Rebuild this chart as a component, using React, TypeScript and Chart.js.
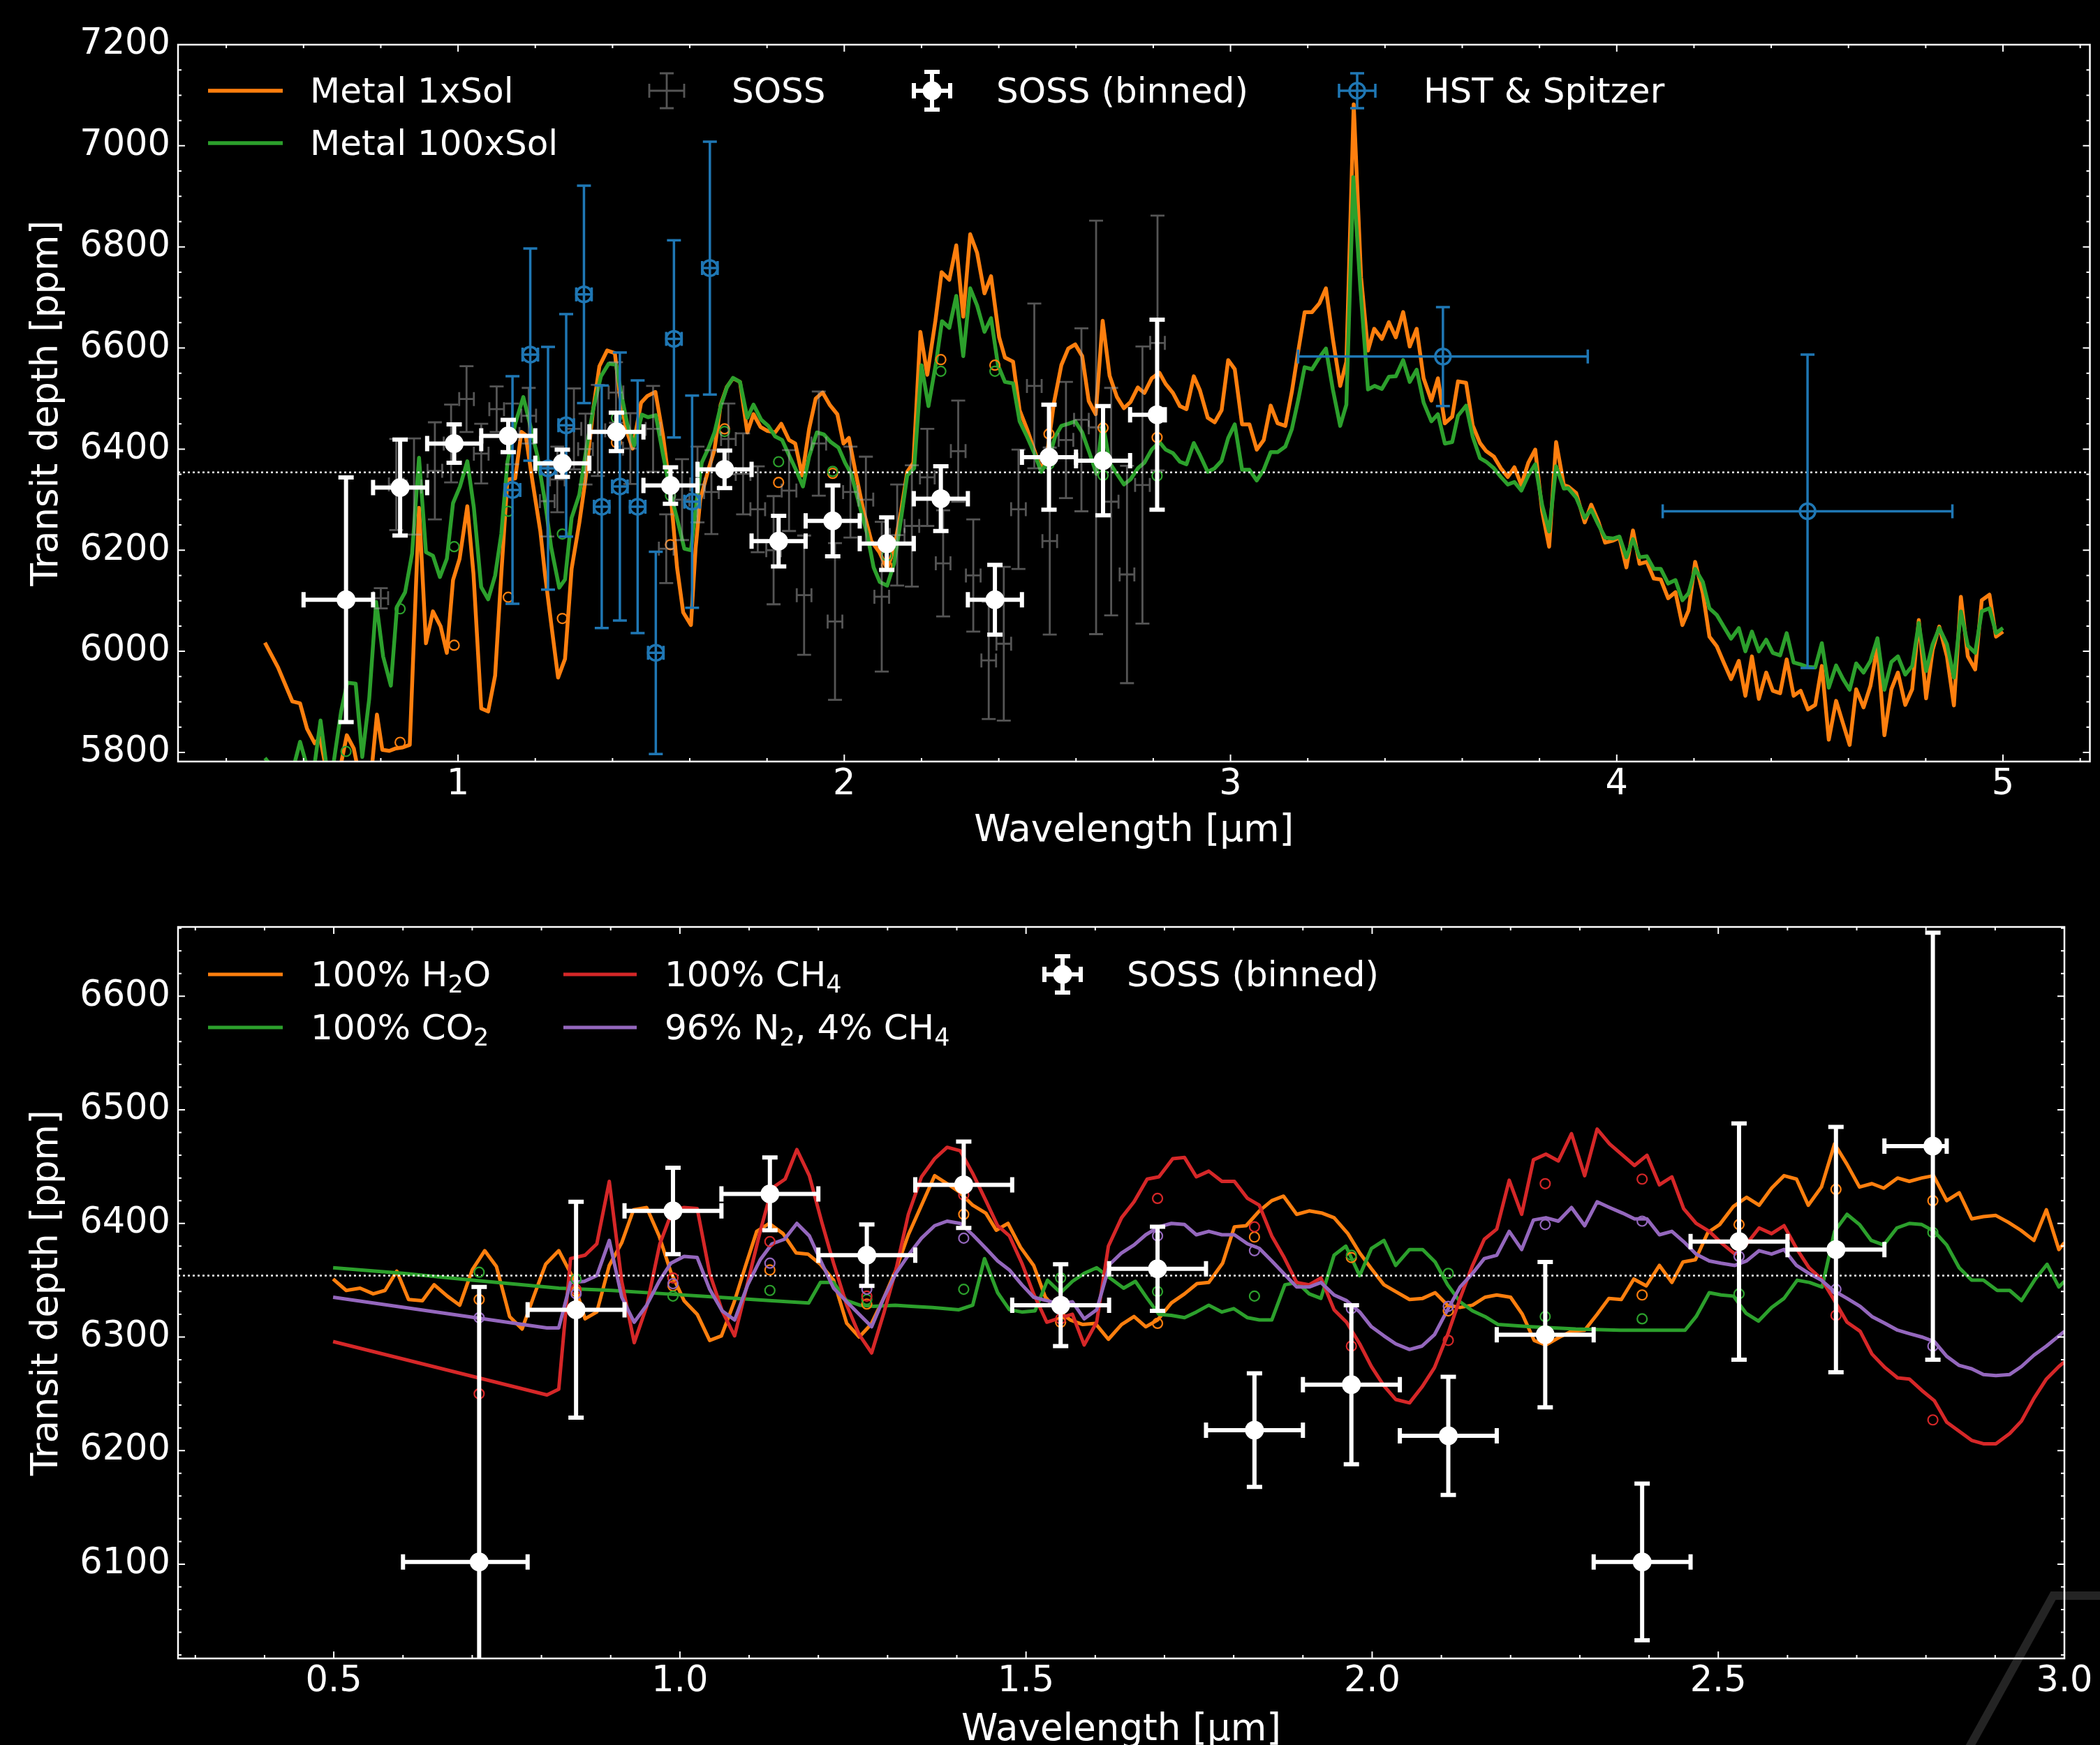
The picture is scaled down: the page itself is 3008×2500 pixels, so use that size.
import React, { useEffect, useRef } from 'react';
import { Chart, registerables } from 'chart.js';

Chart.register(...registerables);

const FONT = "'DejaVu Sans'";
const ORANGE = '#ff7f0e';
const GREEN = '#2ca02c';
const RED = '#d62728';
const PURPLE = '#9467bd';
const BLUE = '#1f77b4';
const GRAY = 'rgba(170,170,170,0.5)';
const WHITE = '#ffffff';

// ---------------- shared data ----------------
const meanDepth = 6354;

const binWave = [0.71, 0.85, 0.99, 1.13, 1.27, 1.41, 1.55, 1.69, 1.83, 1.97, 2.11, 2.25, 2.39, 2.53, 2.67, 2.81];
const binDepth = [6102, 6324, 6411, 6426, 6372, 6434, 6328, 6360, 6218, 6258, 6213, 6302, 6102, 6384, 6377, 6468];
const binErr = [242, 95, 38, 32, 27, 38, 36, 37, 50, 70, 52, 64, 69, 104, 108, 188];
const binWaveLo = [0.11, 0.07, 0.07, 0.07, 0.07, 0.07, 0.07, 0.07, 0.07, 0.07, 0.07, 0.07, 0.07, 0.07, 0.07, 0.07];
const binWaveHi = [0.07, 0.07, 0.07, 0.07, 0.07, 0.07, 0.07, 0.07, 0.07, 0.07, 0.07, 0.07, 0.07, 0.07, 0.07, 0.02];

const sossWave = [0.80, 0.84, 0.886, 0.94, 0.982, 1.022, 1.06, 1.10, 1.14, 1.183, 1.231, 1.257, 1.30, 1.33, 1.362, 1.409, 1.446, 1.505, 1.539, 1.58, 1.62, 1.656, 1.70, 1.738, 1.776, 1.817, 1.857, 1.896, 1.934, 1.976, 2.016, 2.056, 2.097, 2.137, 2.175, 2.215, 2.256, 2.295, 2.334, 2.374, 2.413, 2.451, 2.492, 2.532, 2.574, 2.614, 2.652, 2.691, 2.732, 2.772, 2.811];
const sossDepth = [6105, 6330, 6326, 6357, 6411, 6499, 6391, 6479, 6430, 6466, 6297, 6340, 6440, 6400, 6437, 6512, 6401, 6440, 6203, 6300, 6330, 6315, 6420, 6351, 6281, 6200, 6318, 6111, 6411, 6059, 6315, 6300, 6108, 6230, 6248, 6344, 6174, 6396, 6150, 5982, 6015, 6281, 6525, 6218, 6418, 6458, 6443, 6296, 6152, 6329, 6610];
const sossErr = [20, 90, 95, 96, 77, 65, 59, 45, 60, 55, 70, 65, 80, 70, 90, 60, 70, 85, 68, 80, 75, 83, 70, 80, 85, 107, 80, 118, 103, 155, 90, 85, 148, 100, 120, 96, 105, 100, 111, 116, 152, 118, 163, 185, 115, 181, 409, 225, 215, 274, 252];
const sossWaveErr = 0.019;

const hstWave = [1.141, 1.187, 1.233, 1.280, 1.326, 1.372, 1.419, 1.465, 1.512, 1.559, 1.606, 1.652, 3.55, 4.494];
const hstDepth = [6319, 6587, 6362, 6447, 6706, 6286, 6326, 6286, 5997, 6618, 6296, 6758, 6583, 6277];
const hstErr = [225, 210, 240, 220, 215, 240, 265, 250, 200, 195, 210, 250, 98, 310];
const hstWaveErr = [0.02, 0.02, 0.02, 0.02, 0.02, 0.02, 0.02, 0.02, 0.02, 0.02, 0.02, 0.02, 0.375, 0.375];

// ---------------- top panel models ----------------
const metal1x: number[][] = [
  [0.500, 6017], [0.534, 5968], [0.571, 5901], [0.591, 5897], [0.609, 5847], [0.629, 5818], [0.643, 5829], [0.660, 5760], [0.677, 5740], [0.695, 5770], [0.712, 5834], [0.730, 5808], [0.748, 5740], [0.768, 5700], [0.790, 5875], [0.804, 5805], [0.822, 5803], [0.839, 5808], [0.857, 5810], [0.875, 5815], [0.899, 6284], [0.917, 6016], [0.935, 6079], [0.955, 6049], [0.971, 5997], [0.987, 6141], [1.004, 6183], [1.024, 6287], [1.040, 6153], [1.060, 5887], [1.078, 5881], [1.096, 5952], [1.112, 6153], [1.128, 6340], [1.148, 6342], [1.164, 6434], [1.175, 6428], [1.193, 6335], [1.213, 6238], [1.225, 6153], [1.241, 6056], [1.259, 5948], [1.277, 5985], [1.294, 6163], [1.314, 6254], [1.330, 6340], [1.350, 6479], [1.366, 6564], [1.386, 6595], [1.406, 6590], [1.419, 6505], [1.435, 6440], [1.452, 6401], [1.474, 6492], [1.490, 6505], [1.511, 6513], [1.531, 6425], [1.551, 6307], [1.567, 6166], [1.583, 6077], [1.603, 6052], [1.615, 6203], [1.627, 6300], [1.648, 6359], [1.664, 6399], [1.680, 6488], [1.696, 6523], [1.712, 6540], [1.730, 6533], [1.749, 6433], [1.765, 6469], [1.783, 6444], [1.801, 6436], [1.821, 6433], [1.837, 6450], [1.857, 6418], [1.873, 6411], [1.891, 6348], [1.909, 6440], [1.926, 6500], [1.944, 6512], [1.962, 6488], [1.982, 6469], [1.998, 6411], [2.012, 6422], [2.030, 6351], [2.050, 6277], [2.070, 6218], [2.091, 6196], [2.111, 6163], [2.129, 6203], [2.147, 6277], [2.163, 6355], [2.179, 6373], [2.197, 6632], [2.215, 6547], [2.236, 6654], [2.252, 6750], [2.272, 6735], [2.290, 6803], [2.308, 6662], [2.326, 6825], [2.344, 6788], [2.363, 6708], [2.380, 6742], [2.401, 6621], [2.416, 6581], [2.437, 6573], [2.454, 6477], [2.473, 6440], [2.493, 6396], [2.510, 6359], [2.526, 6396], [2.543, 6492], [2.562, 6566], [2.580, 6599], [2.598, 6607], [2.616, 6584], [2.633, 6495], [2.651, 6469], [2.669, 6654], [2.687, 6545], [2.706, 6503], [2.724, 6481], [2.741, 6493], [2.760, 6522], [2.777, 6511], [2.796, 6540], [2.816, 6551], [2.832, 6529], [2.851, 6511], [2.869, 6485], [2.886, 6479], [2.905, 6544], [2.921, 6516], [2.941, 6462], [2.959, 6453], [2.977, 6477], [2.994, 6576], [3.011, 6558], [3.030, 6449], [3.049, 6449], [3.068, 6399], [3.086, 6418], [3.104, 6486], [3.122, 6451], [3.142, 6446], [3.159, 6514], [3.175, 6592], [3.192, 6671], [3.211, 6671], [3.230, 6688], [3.247, 6718], [3.265, 6618], [3.284, 6525], [3.300, 6573], [3.319, 7082], [3.338, 6740], [3.356, 6595], [3.372, 6638], [3.392, 6618], [3.410, 6651], [3.428, 6621], [3.447, 6671], [3.464, 6603], [3.482, 6638], [3.500, 6540], [3.520, 6496], [3.537, 6540], [3.555, 6451], [3.574, 6464], [3.589, 6534], [3.610, 6531], [3.627, 6447], [3.646, 6412], [3.662, 6396], [3.682, 6385], [3.700, 6362], [3.718, 6345], [3.735, 6364], [3.753, 6329], [3.771, 6373], [3.789, 6399], [3.807, 6277], [3.825, 6207], [3.843, 6414], [3.863, 6329], [3.874, 6326], [3.895, 6313], [3.917, 6255], [3.934, 6290], [3.952, 6258], [3.970, 6215], [3.990, 6219], [4.007, 6225], [4.025, 6166], [4.042, 6239], [4.059, 6173], [4.078, 6177], [4.096, 6144], [4.114, 6142], [4.133, 6105], [4.152, 6117], [4.170, 6052], [4.186, 6081], [4.203, 6177], [4.223, 6115], [4.240, 6029], [4.259, 6010], [4.277, 5978], [4.296, 5945], [4.316, 5981], [4.333, 5912], [4.350, 5990], [4.368, 5906], [4.387, 5958], [4.404, 5922], [4.423, 5917], [4.440, 5984], [4.458, 5912], [4.476, 5922], [4.495, 5885], [4.514, 5894], [4.531, 5971], [4.549, 5825], [4.568, 5902], [4.586, 5857], [4.603, 5815], [4.620, 5925], [4.639, 5889], [4.657, 5932], [4.675, 6010], [4.693, 5834], [4.711, 5925], [4.728, 5958], [4.747, 5894], [4.765, 5925], [4.782, 6062], [4.801, 5907], [4.818, 6003], [4.835, 6049], [4.855, 5990], [4.873, 5893], [4.891, 6108], [4.909, 5990], [4.928, 5964], [4.945, 6101], [4.965, 6112], [4.982, 6029], [5.000, 6039],
];

const metal100x: number[][] = [
  [0.500, 5789], [0.520, 5770], [0.550, 5760], [0.572, 5765], [0.591, 5821], [0.610, 5770], [0.626, 5762], [0.644, 5863], [0.660, 5770], [0.677, 5775], [0.697, 5880], [0.713, 5938], [0.735, 5936], [0.752, 5791], [0.770, 5906], [0.788, 6098], [0.806, 5990], [0.826, 5932], [0.842, 6088], [0.863, 6117], [0.881, 6193], [0.899, 6383], [0.917, 6196], [0.935, 6189], [0.953, 6147], [0.971, 6183], [0.987, 6293], [1.005, 6326], [1.024, 6376], [1.041, 6284], [1.060, 6127], [1.078, 6103], [1.096, 6150], [1.112, 6232], [1.128, 6375], [1.148, 6450], [1.169, 6503], [1.185, 6453], [1.205, 6388], [1.225, 6297], [1.241, 6206], [1.262, 6126], [1.277, 6142], [1.294, 6264], [1.314, 6310], [1.331, 6395], [1.350, 6479], [1.370, 6544], [1.390, 6569], [1.409, 6567], [1.422, 6512], [1.438, 6450], [1.456, 6407], [1.476, 6468], [1.492, 6463], [1.512, 6467], [1.531, 6388], [1.551, 6311], [1.567, 6263], [1.586, 6203], [1.603, 6200], [1.617, 6293], [1.631, 6373], [1.649, 6403], [1.664, 6433], [1.680, 6485], [1.696, 6522], [1.712, 6541], [1.730, 6533], [1.749, 6462], [1.765, 6488], [1.785, 6458], [1.803, 6446], [1.821, 6425], [1.839, 6418], [1.857, 6388], [1.875, 6359], [1.893, 6326], [1.909, 6385], [1.929, 6433], [1.947, 6429], [1.965, 6414], [1.985, 6403], [2.002, 6373], [2.018, 6351], [2.038, 6293], [2.059, 6233], [2.076, 6166], [2.092, 6137], [2.111, 6130], [2.129, 6174], [2.147, 6262], [2.163, 6348], [2.181, 6362], [2.200, 6566], [2.218, 6485], [2.238, 6573], [2.253, 6653], [2.272, 6640], [2.290, 6703], [2.308, 6584], [2.326, 6718], [2.344, 6684], [2.363, 6632], [2.380, 6659], [2.398, 6566], [2.416, 6533], [2.437, 6530], [2.454, 6455], [2.473, 6425], [2.492, 6392], [2.510, 6355], [2.530, 6381], [2.546, 6425], [2.562, 6446], [2.580, 6450], [2.598, 6455], [2.616, 6433], [2.635, 6392], [2.653, 6351], [2.669, 6455], [2.687, 6373], [2.706, 6351], [2.724, 6330], [2.741, 6340], [2.760, 6362], [2.777, 6373], [2.796, 6399], [2.816, 6414], [2.832, 6399], [2.851, 6392], [2.869, 6375], [2.886, 6370], [2.905, 6412], [2.921, 6388], [2.941, 6355], [2.959, 6362], [2.977, 6377], [2.994, 6422], [3.011, 6449], [3.030, 6359], [3.049, 6359], [3.068, 6338], [3.086, 6359], [3.104, 6394], [3.122, 6394], [3.142, 6405], [3.159, 6440], [3.175, 6496], [3.192, 6562], [3.211, 6558], [3.230, 6581], [3.247, 6599], [3.265, 6518], [3.284, 6446], [3.300, 6488], [3.318, 6938], [3.336, 6721], [3.356, 6518], [3.373, 6525], [3.392, 6519], [3.410, 6543], [3.428, 6544], [3.447, 6576], [3.464, 6533], [3.482, 6557], [3.500, 6492], [3.520, 6455], [3.537, 6469], [3.555, 6411], [3.574, 6414], [3.589, 6466], [3.610, 6486], [3.627, 6425], [3.646, 6382], [3.662, 6375], [3.682, 6362], [3.700, 6345], [3.718, 6330], [3.735, 6335], [3.753, 6318], [3.771, 6348], [3.789, 6370], [3.807, 6289], [3.825, 6237], [3.843, 6366], [3.863, 6322], [3.874, 6323], [3.895, 6304], [3.917, 6264], [3.934, 6280], [3.952, 6251], [3.970, 6225], [3.990, 6223], [4.007, 6227], [4.025, 6186], [4.042, 6222], [4.059, 6186], [4.078, 6188], [4.096, 6163], [4.114, 6163], [4.133, 6134], [4.152, 6141], [4.170, 6101], [4.186, 6115], [4.203, 6163], [4.223, 6137], [4.240, 6085], [4.259, 6072], [4.277, 6049], [4.296, 6025], [4.316, 6046], [4.333, 6000], [4.350, 6039], [4.368, 6000], [4.387, 6023], [4.404, 5997], [4.423, 5992], [4.440, 6036], [4.458, 5978], [4.476, 5974], [4.495, 5969], [4.514, 5968], [4.531, 6016], [4.549, 5928], [4.568, 5972], [4.586, 5945], [4.603, 5924], [4.620, 5976], [4.639, 5958], [4.657, 5981], [4.675, 6026], [4.693, 5924], [4.711, 5979], [4.728, 5990], [4.747, 5954], [4.765, 5971], [4.782, 6056], [4.801, 5961], [4.818, 6014], [4.835, 6046], [4.855, 6014], [4.873, 5948], [4.891, 6079], [4.909, 6011], [4.928, 5997], [4.945, 6079], [4.965, 6085], [4.982, 6036], [5.000, 6046],
];

const metal1xBinned = [5740, 5820, 6012, 6107, 6065, 6413, 6211, 6440, 6334, 6352, 6170, 6577, 6566, 6430, 6442, 6423];
const metal100xBinned = [5802, 6084, 6207, 6277, 6232, 6462, 6308, 6435, 6375, 6356, 6189, 6554, 6554, 6370, 6348, 6347];

// ---------------- bottom panel models ----------------
const h2o: number[][] = [
  [0.499, 6351], [0.518, 6341], [0.538, 6343], [0.557, 6338], [0.574, 6341], [0.591, 6358], [0.608, 6333], [0.628, 6332], [0.645, 6346], [0.664, 6336], [0.682, 6328], [0.700, 6359], [0.718, 6376], [0.735, 6362], [0.754, 6318], [0.772, 6307], [0.789, 6336], [0.806, 6364], [0.825, 6376], [0.844, 6354], [0.863, 6316], [0.880, 6322], [0.898, 6363], [0.916, 6383], [0.933, 6412], [0.952, 6414], [0.970, 6389], [0.987, 6357], [1.006, 6332], [1.025, 6320], [1.043, 6297], [1.060, 6301], [1.078, 6330], [1.095, 6363], [1.111, 6393], [1.129, 6400], [1.149, 6391], [1.168, 6374], [1.185, 6373], [1.203, 6364], [1.222, 6350], [1.241, 6312], [1.259, 6300], [1.276, 6311], [1.295, 6335], [1.312, 6359], [1.330, 6390], [1.349, 6416], [1.368, 6442], [1.386, 6435], [1.403, 6428], [1.423, 6416], [1.442, 6409], [1.457, 6394], [1.474, 6400], [1.492, 6379], [1.511, 6363], [1.528, 6335], [1.546, 6323], [1.564, 6315], [1.582, 6311], [1.600, 6312], [1.619, 6298], [1.638, 6311], [1.656, 6318], [1.673, 6309], [1.690, 6315], [1.710, 6330], [1.729, 6338], [1.747, 6347], [1.764, 6348], [1.784, 6365], [1.801, 6397], [1.818, 6398], [1.837, 6411], [1.855, 6420], [1.872, 6424], [1.891, 6408], [1.909, 6411], [1.928, 6409], [1.945, 6405], [1.965, 6391], [1.982, 6374], [1.999, 6360], [2.017, 6346], [2.034, 6340], [2.054, 6333], [2.073, 6334], [2.091, 6339], [2.109, 6328], [2.127, 6326], [2.145, 6328], [2.163, 6335], [2.180, 6337], [2.200, 6335], [2.217, 6320], [2.234, 6297], [2.251, 6293], [2.271, 6300], [2.288, 6305], [2.307, 6306], [2.325, 6320], [2.342, 6334], [2.360, 6333], [2.378, 6351], [2.396, 6345], [2.415, 6363], [2.433, 6348], [2.449, 6366], [2.467, 6368], [2.485, 6392], [2.502, 6399], [2.522, 6415], [2.541, 6423], [2.559, 6416], [2.577, 6431], [2.595, 6442], [2.613, 6439], [2.630, 6416], [2.649, 6432], [2.668, 6470], [2.686, 6452], [2.704, 6432], [2.722, 6435], [2.739, 6431], [2.759, 6440], [2.776, 6437], [2.794, 6440], [2.811, 6442], [2.830, 6420], [2.848, 6427], [2.866, 6404], [2.883, 6406], [2.901, 6407], [2.919, 6401], [2.937, 6394], [2.956, 6385], [2.974, 6412], [2.992, 6377], [3.000, 6383],
];

const co2: number[][] = [
  [0.499, 6361], [0.600, 6356], [0.700, 6350], [0.825, 6343], [0.902, 6341], [0.979, 6338], [1.056, 6335], [1.133, 6332], [1.186, 6330], [1.203, 6348], [1.222, 6348], [1.241, 6332], [1.260, 6328], [1.280, 6327], [1.311, 6328], [1.334, 6327], [1.365, 6326], [1.403, 6324], [1.423, 6328], [1.440, 6369], [1.459, 6339], [1.476, 6324], [1.494, 6322], [1.513, 6323], [1.531, 6350], [1.550, 6339], [1.567, 6349], [1.584, 6356], [1.602, 6361], [1.621, 6352], [1.641, 6343], [1.658, 6349], [1.675, 6334], [1.692, 6320], [1.710, 6319], [1.729, 6317], [1.746, 6322], [1.764, 6328], [1.783, 6322], [1.800, 6325], [1.820, 6317], [1.837, 6315], [1.855, 6315], [1.874, 6346], [1.892, 6348], [1.909, 6338], [1.926, 6334], [1.945, 6372], [1.962, 6380], [1.982, 6354], [1.999, 6378], [2.017, 6385], [2.034, 6363], [2.054, 6377], [2.073, 6377], [2.091, 6366], [2.109, 6346], [2.127, 6331], [2.145, 6323], [2.163, 6318], [2.182, 6311], [2.229, 6309], [2.294, 6307], [2.358, 6306], [2.452, 6306], [2.468, 6318], [2.487, 6339], [2.504, 6337], [2.522, 6336], [2.540, 6321], [2.558, 6314], [2.577, 6326], [2.595, 6334], [2.614, 6350], [2.632, 6348], [2.650, 6344], [2.668, 6393], [2.686, 6408], [2.704, 6399], [2.721, 6385], [2.739, 6381], [2.758, 6396], [2.776, 6400], [2.794, 6399], [2.812, 6393], [2.830, 6381], [2.848, 6361], [2.866, 6350], [2.883, 6350], [2.903, 6341], [2.921, 6341], [2.938, 6332], [2.958, 6351], [2.975, 6364], [2.992, 6344], [3.000, 6349],
];

const ch4: number[][] = [
  [0.499, 6296], [0.808, 6249], [0.825, 6254], [0.842, 6369], [0.863, 6372], [0.880, 6382], [0.898, 6437], [0.916, 6349], [0.934, 6295], [0.952, 6327], [0.971, 6382], [0.989, 6411], [1.006, 6414], [1.025, 6413], [1.043, 6356], [1.061, 6323], [1.079, 6301], [1.098, 6348], [1.116, 6393], [1.133, 6431], [1.152, 6439], [1.169, 6465], [1.187, 6442], [1.205, 6401], [1.222, 6365], [1.241, 6328], [1.259, 6302], [1.277, 6286], [1.295, 6322], [1.312, 6359], [1.330, 6408], [1.349, 6441], [1.368, 6457], [1.386, 6467], [1.405, 6464], [1.423, 6444], [1.442, 6420], [1.459, 6398], [1.476, 6389], [1.494, 6365], [1.511, 6338], [1.530, 6313], [1.550, 6317], [1.567, 6320], [1.584, 6293], [1.602, 6313], [1.619, 6380], [1.638, 6405], [1.656, 6419], [1.675, 6439], [1.692, 6441], [1.712, 6457], [1.729, 6458], [1.746, 6441], [1.764, 6446], [1.783, 6437], [1.801, 6437], [1.820, 6422], [1.837, 6416], [1.855, 6389], [1.872, 6371], [1.891, 6348], [1.909, 6346], [1.926, 6352], [1.945, 6324], [1.963, 6313], [1.982, 6294], [1.999, 6274], [2.017, 6257], [2.034, 6245], [2.054, 6242], [2.072, 6256], [2.090, 6273], [2.109, 6302], [2.127, 6334], [2.145, 6363], [2.162, 6386], [2.180, 6395], [2.198, 6438], [2.216, 6408], [2.233, 6456], [2.251, 6461], [2.269, 6455], [2.288, 6479], [2.307, 6442], [2.325, 6483], [2.343, 6470], [2.362, 6460], [2.379, 6451], [2.397, 6460], [2.415, 6434], [2.433, 6441], [2.450, 6413], [2.468, 6400], [2.487, 6393], [2.504, 6383], [2.524, 6373], [2.541, 6382], [2.559, 6396], [2.577, 6391], [2.595, 6398], [2.613, 6378], [2.631, 6361], [2.649, 6351], [2.666, 6334], [2.686, 6313], [2.705, 6305], [2.722, 6285], [2.741, 6273], [2.759, 6264], [2.776, 6263], [2.794, 6253], [2.812, 6244], [2.830, 6225], [2.848, 6217], [2.866, 6209], [2.883, 6206], [2.901, 6206], [2.921, 6215], [2.938, 6226], [2.956, 6246], [2.974, 6263], [2.992, 6274], [3.000, 6278],
];

const n2ch4: number[][] = [
  [0.499, 6335], [0.808, 6308], [0.825, 6308], [0.842, 6348], [0.862, 6349], [0.880, 6354], [0.898, 6385], [0.916, 6335], [0.934, 6313], [0.952, 6328], [0.970, 6349], [0.987, 6365], [1.006, 6371], [1.025, 6370], [1.043, 6342], [1.061, 6323], [1.079, 6315], [1.098, 6346], [1.116, 6368], [1.133, 6382], [1.151, 6386], [1.169, 6400], [1.187, 6389], [1.205, 6365], [1.222, 6343], [1.241, 6331], [1.259, 6320], [1.277, 6309], [1.295, 6335], [1.312, 6356], [1.330, 6372], [1.349, 6387], [1.368, 6398], [1.386, 6402], [1.405, 6400], [1.423, 6390], [1.442, 6378], [1.459, 6367], [1.476, 6359], [1.494, 6346], [1.511, 6335], [1.530, 6332], [1.550, 6329], [1.567, 6331], [1.584, 6316], [1.602, 6324], [1.621, 6364], [1.638, 6374], [1.656, 6381], [1.673, 6390], [1.692, 6397], [1.710, 6400], [1.729, 6399], [1.746, 6390], [1.764, 6393], [1.783, 6390], [1.801, 6390], [1.820, 6382], [1.837, 6378], [1.855, 6367], [1.872, 6356], [1.891, 6344], [1.909, 6344], [1.926, 6348], [1.945, 6337], [1.963, 6332], [1.982, 6322], [1.999, 6309], [2.017, 6301], [2.034, 6294], [2.054, 6289], [2.072, 6292], [2.090, 6302], [2.109, 6324], [2.127, 6344], [2.145, 6356], [2.162, 6369], [2.180, 6372], [2.198, 6393], [2.216, 6377], [2.233, 6403], [2.251, 6405], [2.269, 6402], [2.288, 6414], [2.307, 6398], [2.325, 6419], [2.343, 6414], [2.362, 6409], [2.379, 6404], [2.397, 6404], [2.415, 6390], [2.433, 6393], [2.450, 6384], [2.468, 6373], [2.487, 6367], [2.504, 6365], [2.524, 6363], [2.541, 6367], [2.559, 6376], [2.577, 6373], [2.595, 6377], [2.613, 6363], [2.631, 6356], [2.649, 6350], [2.666, 6341], [2.686, 6334], [2.705, 6327], [2.722, 6318], [2.741, 6312], [2.759, 6306], [2.776, 6303], [2.794, 6300], [2.812, 6296], [2.830, 6283], [2.848, 6275], [2.866, 6272], [2.883, 6267], [2.901, 6266], [2.921, 6267], [2.938, 6274], [2.956, 6284], [2.974, 6292], [2.992, 6301], [3.000, 6305],
];

const h2oBinned = [6333, 6340, 6345, 6359, 6329, 6408, 6313, 6312, 6388, 6370, 6323, 6305, 6337, 6399, 6430, 6420];
const co2Binned = [6357, 6351, 6336, 6341, 6333, 6342, 6352, 6340, 6336, 6372, 6356, 6318, 6316, 6338, 6380, 6392];
const ch4Binned = [6250, 6342, 6352, 6384, 6336, 6425, 6316, 6422, 6397, 6292, 6297, 6435, 6439, 6382, 6319, 6227];
const n2ch4Binned = [6317, 6338, 6347, 6365, 6342, 6387, 6330, 6389, 6376, 6325, 6327, 6399, 6402, 6371, 6342, 6292];

// axis settings
const topXTicks = [1, 2, 3, 4, 5];
const topYTicks = [5800, 6000, 6200, 6400, 6600, 6800, 7000, 7200];
const botXTicks = [0.5, 1.0, 1.5, 2.0, 2.5, 3.0];
const botYTicks = [6100, 6200, 6300, 6400, 6500, 6600];

// labels
const L_M1 = 'Metal 1xSol';
const L_M100 = 'Metal 100xSol';
const L_SOSS = 'SOSS';
const L_BIN = 'SOSS (binned)';
const L_HST = 'HST & Spitzer';
const L_H2O = '100% H_{2}O';
const L_CO2 = '100% CO_{2}';
const L_CH4 = '100% CH_{4}';
const L_N2 = '96% N_{2}, 4% CH_{4}';

// ---------------- helpers ----------------
const toPts = (a: number[][]) => a.map(([x, y]) => ({ x, y }));
const zip = (xs: number[], ys: number[]) => xs.map((x, i) => ({ x, y: ys[i] }));

const errorBarPlugin = {
  id: 'errorBars',
  beforeDatasetDraw(chart: any, args: any) {
    const ds = chart.data.datasets[args.index];
    const eb = ds && ds.errorBars;
    if (!eb) return;
    const { ctx, chartArea: a } = chart;
    const xs = chart.scales.x;
    const ys = chart.scales.y;
    ctx.save();
    ctx.beginPath();
    ctx.rect(a.left, a.top, a.right - a.left, a.bottom - a.top);
    ctx.clip();
    ctx.strokeStyle = eb.color;
    ctx.lineWidth = eb.width;
    ctx.lineCap = 'butt';
    ds.data.forEach((p: any, i: number) => {
      const px = xs.getPixelForValue(p.x);
      const py = ys.getPixelForValue(p.y);
      const c = eb.cap;
      ctx.beginPath();
      const xl = eb.xLo[i], xh = eb.xHi[i];
      if (xl || xh) {
        const x0 = xs.getPixelForValue(p.x - xl);
        const x1 = xs.getPixelForValue(p.x + xh);
        ctx.moveTo(x0, py); ctx.lineTo(x1, py);
        ctx.moveTo(x0, py - c); ctx.lineTo(x0, py + c);
        ctx.moveTo(x1, py - c); ctx.lineTo(x1, py + c);
      }
      const yl = eb.yLo[i], yh = eb.yHi[i];
      if (yl || yh) {
        const y0 = ys.getPixelForValue(p.y - yl);
        const y1 = ys.getPixelForValue(p.y + yh);
        ctx.moveTo(px, y0); ctx.lineTo(px, y1);
        ctx.moveTo(px - c, y0); ctx.lineTo(px + c, y0);
        ctx.moveTo(px - c, y1); ctx.lineTo(px + c, y1);
      }
      ctx.stroke();
    });
    ctx.restore();
  },
};

function tickValues(min: number, max: number, step: number) {
  const out: number[] = [];
  const k0 = Math.ceil(min / step - 1e-9);
  const k1 = Math.floor(max / step + 1e-9);
  for (let k = k0; k <= k1; k++) out.push(k * step);
  return out;
}
const isMult = (v: number, step: number) => Math.abs(v / step - Math.round(v / step)) < 1e-6;

function makeFramePlugin(cfg: { xMajor: number; xMinor: number; yMajor: number; yMinor: number }) {
  return {
    id: 'frameTicks',
    afterDatasetsDraw(chart: any) {
      const { ctx, chartArea: a } = chart;
      const xs = chart.scales.x;
      const ys = chart.scales.y;
      ctx.save();
      ctx.strokeStyle = WHITE;
      ctx.lineWidth = 2;
      ctx.beginPath();
      tickValues(xs.min, xs.max, cfg.xMinor).forEach((v) => {
        const len = isMult(v, cfg.xMajor) ? 10 : 5;
        const p = xs.getPixelForValue(v);
        ctx.moveTo(p, a.bottom); ctx.lineTo(p, a.bottom - len);
        ctx.moveTo(p, a.top); ctx.lineTo(p, a.top + len);
      });
      tickValues(ys.min, ys.max, cfg.yMinor).forEach((v) => {
        const len = isMult(v, cfg.yMajor) ? 10 : 5;
        const p = ys.getPixelForValue(v);
        ctx.moveTo(a.left, p); ctx.lineTo(a.left + len, p);
        ctx.moveTo(a.right, p); ctx.lineTo(a.right - len, p);
      });
      ctx.stroke();
      ctx.lineWidth = 2.5;
      ctx.strokeRect(a.left, a.top, a.right - a.left, a.bottom - a.top);
      ctx.restore();
    },
  };
}

function drawRich(ctx: CanvasRenderingContext2D, text: string, x: number, y: number, size: number) {
  const parts = text.split(/(_\{[^}]*\})/);
  let cx = x;
  ctx.textBaseline = 'alphabetic';
  ctx.textAlign = 'left';
  for (const part of parts) {
    if (!part) continue;
    const m = part.match(/^_\{([^}]*)\}$/);
    if (m) {
      ctx.font = `${size * 0.7}px ${FONT}`;
      ctx.fillText(m[1], cx, y + size * 0.18);
      cx += ctx.measureText(m[1]).width;
    } else {
      ctx.font = `${size}px ${FONT}`;
      ctx.fillText(part, cx, y);
      cx += ctx.measureText(part).width;
    }
  }
}

function makeLegendPlugin(items: any[], lineWidth: number) {
  return {
    id: 'customLegend',
    afterDraw(chart: any) {
      const ctx = chart.ctx;
      ctx.save();
      items.forEach((it) => {
        if (it.kind === 'line') {
          ctx.strokeStyle = it.color;
          ctx.lineWidth = lineWidth;
          ctx.beginPath();
          ctx.moveTo(it.x, it.y); ctx.lineTo(it.x2, it.y);
          ctx.stroke();
        } else {
          const { cx, cy, hx, hy, cap } = it;
          ctx.strokeStyle = it.color;
          ctx.lineWidth = it.lw;
          ctx.beginPath();
          ctx.moveTo(cx - hx, cy); ctx.lineTo(cx + hx, cy);
          ctx.moveTo(cx, cy - hy); ctx.lineTo(cx, cy + hy);
          ctx.moveTo(cx - hx, cy - cap); ctx.lineTo(cx - hx, cy + cap);
          ctx.moveTo(cx + hx, cy - cap); ctx.lineTo(cx + hx, cy + cap);
          ctx.moveTo(cx - cap, cy - hy); ctx.lineTo(cx + cap, cy - hy);
          ctx.moveTo(cx - cap, cy + hy); ctx.lineTo(cx + cap, cy + hy);
          ctx.stroke();
          if (it.marker) {
            ctx.beginPath();
            ctx.arc(cx, cy, it.marker.r, 0, Math.PI * 2);
            if (it.marker.fill) { ctx.fillStyle = it.marker.fill; ctx.fill(); }
            if (it.marker.lw) { ctx.strokeStyle = it.marker.stroke; ctx.lineWidth = it.marker.lw; ctx.stroke(); }
          }
        }
        ctx.fillStyle = WHITE;
        drawRich(ctx, it.label, it.tx, it.ty, 50);
      });
      ctx.restore();
    },
  };
}

const cornerPlugin = {
  id: 'cornerMark',
  beforeDraw(chart: any) {
    const ctx = chart.ctx;
    ctx.save();
    ctx.strokeStyle = '#242424';
    ctx.lineWidth = 12;
    ctx.lineJoin = 'miter';
    ctx.beginPath();
    ctx.moveTo(2816, 1262);
    ctx.lineTo(2941, 1036);
    ctx.lineTo(3020, 1036);
    ctx.stroke();
    ctx.restore();
  },
};

function xAxis(min: number, max: number, ticks: number[], fmt: (v: number) => string, height: number, titlePad: number) {
  return {
    type: 'linear',
    min,
    max,
    grid: { display: false, drawTicks: false },
    border: { display: false },
    ticks: { color: WHITE, font: { family: FONT, size: 51 }, padding: 3, maxRotation: 0, autoSkip: false, callback: (v: any) => fmt(Number(v)) },
    afterBuildTicks: (s: any) => { s.ticks = ticks.map((v) => ({ value: v })); },
    afterFit: (s: any) => { s.height = height; },
    title: { display: true, text: 'Wavelength [µm]', color: WHITE, font: { family: FONT, size: 53, lineHeight: 0.8 }, padding: { top: 0, bottom: titlePad } },
  };
}

function yAxis(min: number, max: number, ticks: number[]) {
  return {
    type: 'linear',
    min,
    max,
    grid: { display: false, drawTicks: false },
    border: { display: false },
    ticks: { color: WHITE, font: { family: FONT, size: 51 }, padding: 11, autoSkip: false, callback: (v: any) => String(v) },
    afterBuildTicks: (s: any) => { s.ticks = ticks.map((v) => ({ value: v })); },
    afterFit: (s: any) => { s.width = 255; },
    title: { display: true, text: 'Transit depth [ppm]', color: WHITE, font: { family: FONT, size: 53, lineHeight: 1 }, padding: { top: 41.5, bottom: 0 } },
  };
}

function lineDs(label: string, pts: number[][], color: string, order: number, width: number) {
  return { type: 'line', label, data: toPts(pts), borderColor: color, borderWidth: width, pointRadius: 0, tension: 0, fill: false, order, clip: 0, borderJoinStyle: 'round' };
}

function circleDs(label: string, ys: number[], color: string, order: number) {
  return { type: 'scatter', label, data: zip(binWave, ys), pointRadius: 7, pointBorderWidth: 2.2, borderColor: color, backgroundColor: 'rgba(0,0,0,0)', pointStyle: 'circle', order, clip: 0 };
}

function meanDs(min: number, max: number, order: number) {
  return { type: 'line', label: 'mean', data: [{ x: min, y: meanDepth }, { x: max, y: meanDepth }], borderColor: WHITE, borderWidth: 2.5, borderDash: [3, 4], pointRadius: 0, order, clip: 0 };
}

function binnedDs(order: number) {
  return {
    type: 'scatter', label: L_BIN, data: zip(binWave, binDepth), pointRadius: 13.5, pointBorderWidth: 0, backgroundColor: WHITE, borderColor: WHITE, order, clip: 0,
    errorBars: { color: WHITE, width: 6, cap: 11, xLo: binWaveLo, xHi: binWaveHi, yLo: binErr, yHi: binErr },
  };
}

function topConfig(): any {
  const xMin = 0.275, xMax = 5.225;
  return {
    type: 'line',
    data: {
      datasets: [
        binnedDs(0),
        {
          type: 'scatter', label: L_HST, data: zip(hstWave, hstDepth), pointRadius: 11, pointBorderWidth: 3.5, borderColor: BLUE, backgroundColor: 'rgba(0,0,0,0)', order: 1, clip: 0,
          errorBars: { color: BLUE, width: 3.5, cap: 10, xLo: hstWaveErr, xHi: hstWaveErr, yLo: hstErr, yHi: hstErr },
        },
        {
          type: 'scatter', label: L_SOSS, data: zip(sossWave, sossDepth), pointRadius: 0, order: 2, clip: 0,
          errorBars: { color: GRAY, width: 2.8, cap: 10, xLo: sossWave.map(() => sossWaveErr), xHi: sossWave.map(() => sossWaveErr), yLo: sossErr, yHi: sossErr },
        },
        circleDs(L_M100 + ' binned', metal100xBinned, GREEN, 3),
        circleDs(L_M1 + ' binned', metal1xBinned, ORANGE, 3.5),
        meanDs(xMin, xMax, 4),
        lineDs(L_M100, metal100x, GREEN, 5, 5.5),
        lineDs(L_M1, metal1x, ORANGE, 6, 5.5),
      ],
    },
    options: {
      animation: false,
      responsive: false,
      devicePixelRatio: 1,
      events: [],
      layout: { padding: { left: 0, right: 10, top: 64, bottom: 0 } },
      plugins: { legend: { display: false }, tooltip: { enabled: false }, title: { display: false } },
      scales: {
        x: xAxis(xMin, xMax, topXTicks, (v) => String(v), 159, 38),
        y: yAxis(5782, 7200, topYTicks),
      },
    },
    plugins: [
      errorBarPlugin,
      makeFramePlugin({ xMajor: 1, xMinor: 0.2, yMajor: 200, yMinor: 50 }),
      makeLegendPlugin([
        { kind: 'line', color: ORANGE, x: 298, x2: 405, y: 130, label: L_M1, tx: 444, ty: 147 },
        { kind: 'line', color: GREEN, x: 298, x2: 405, y: 205, label: L_M100, tx: 444, ty: 222 },
        { kind: 'err', color: GRAY, cx: 955, cy: 130, hx: 25, hy: 25, cap: 10, lw: 2.8, marker: null, label: L_SOSS, tx: 1048, ty: 147 },
        { kind: 'err', color: WHITE, cx: 1335, cy: 130, hx: 26, hy: 27, cap: 11, lw: 6, marker: { r: 13.5, fill: WHITE, stroke: WHITE, lw: 0 }, label: L_BIN, tx: 1427, ty: 147 },
        { kind: 'err', color: BLUE, cx: 1944, cy: 130, hx: 26, hy: 25, cap: 10, lw: 3.5, marker: { r: 11, fill: null, stroke: BLUE, lw: 3.5 }, label: L_HST, tx: 2039, ty: 147 },
      ], 5.5),
    ],
  };
}

function bottomConfig(): any {
  const xMin = 0.275, xMax = 3.0;
  return {
    type: 'line',
    data: {
      datasets: [
        binnedDs(0),
        circleDs(L_N2 + ' binned', n2ch4Binned, PURPLE, 1),
        circleDs(L_CH4 + ' binned', ch4Binned, RED, 1.1),
        circleDs(L_CO2 + ' binned', co2Binned, GREEN, 1.2),
        circleDs(L_H2O + ' binned', h2oBinned, ORANGE, 1.3),
        meanDs(xMin, xMax, 2),
        lineDs(L_N2, n2ch4, PURPLE, 3, 5),
        lineDs(L_CH4, ch4, RED, 4, 5),
        lineDs(L_CO2, co2, GREEN, 5, 5),
        lineDs(L_H2O, h2o, ORANGE, 6, 5),
      ],
    },
    options: {
      animation: false,
      responsive: false,
      devicePixelRatio: 1,
      events: [],
      layout: { padding: { left: 0, right: 51, top: 78, bottom: 0 } },
      plugins: { legend: { display: false }, tooltip: { enabled: false }, title: { display: false } },
      scales: {
        x: xAxis(xMin, xMax, botXTicks, (v) => v.toFixed(1), 124, 0),
        y: yAxis(6017, 6661, botYTicks),
      },
    },
    plugins: [
      cornerPlugin,
      errorBarPlugin,
      makeFramePlugin({ xMajor: 0.5, xMinor: 0.1, yMajor: 100, yMinor: 20 }),
      makeLegendPlugin([
        { kind: 'line', color: ORANGE, x: 298, x2: 405, y: 146, label: L_H2O, tx: 445, ty: 163 },
        { kind: 'line', color: GREEN, x: 298, x2: 405, y: 222, label: L_CO2, tx: 445, ty: 239 },
        { kind: 'line', color: RED, x: 807, x2: 912, y: 146, label: L_CH4, tx: 952, ty: 163 },
        { kind: 'line', color: PURPLE, x: 807, x2: 912, y: 222, label: L_N2, tx: 952, ty: 239 },
        { kind: 'err', color: WHITE, cx: 1522, cy: 146, hx: 26, hy: 26, cap: 11, lw: 6, marker: { r: 13.5, fill: WHITE, stroke: WHITE, lw: 0 }, label: L_BIN, tx: 1614, ty: 163 },
      ], 5),
    ],
  };
}

export default function App() {
  const topRef = useRef<HTMLCanvasElement>(null);
  const botRef = useRef<HTMLCanvasElement>(null);
  useEffect(() => {
    const c1 = new Chart(topRef.current as HTMLCanvasElement, topConfig());
    const c2 = new Chart(botRef.current as HTMLCanvasElement, bottomConfig());
    return () => {
      c1.destroy();
      c2.destroy();
    };
  }, []);
  return (
    <div style={{ position: 'absolute', left: 0, top: 0, width: 3008, height: 2500, background: '#000', overflow: 'hidden' }}>
      <canvas ref={topRef} width={3008} height={1250} style={{ display: 'block', width: 3008, height: 1250 }} />
      <canvas ref={botRef} width={3008} height={1250} style={{ display: 'block', width: 3008, height: 1250 }} />
    </div>
  );
}
